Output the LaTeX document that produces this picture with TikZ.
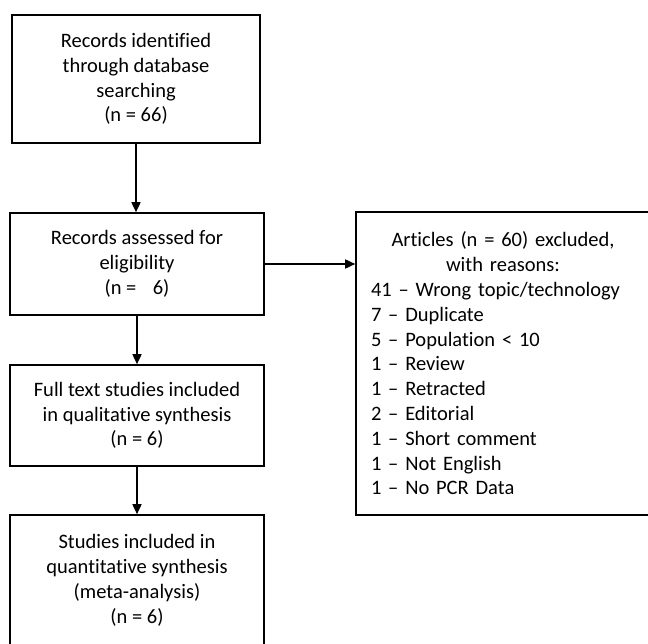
\documentclass[tikz,border=0pt]{standalone}
\usepackage{fontspec}
\setmainfont{Carlito}[Ligatures={NoCommon}]
\usetikzlibrary{arrows.meta}
\tikzset{
  box/.style={draw=black, line width=1.6pt, fill=white, align=center, inner sep=0pt,
    font=\fontsize{20.5}{24.8}\selectfont},
  arr/.style={line width=1.6pt, -{Triangle[length=10pt,width=9pt]}}
}
\begin{document}
\begin{tikzpicture}[x=1pt,y=-1pt]
\clip (0,0) rectangle (648,644);
\fill[white] (0,0) rectangle (648,644);
\node[box, minimum width=248pt, minimum height=128pt] (b1) at (136,79)
  {Records identified\\through database\\searching\\(n = 66)};
\node[box, minimum width=254pt, minimum height=102pt] (b2) at (137,264)
  {Records assessed for\\eligibility\\(n =\hspace{0.8em}6)};
\node[box, minimum width=254pt, minimum height=101pt] (b3) at (137,415.5)
  {Full text studies included\\in qualitative synthesis\\(n = 6)};
\node[box, minimum width=254pt, minimum height=131pt] (b4) at (137,580.5)
  {Studies included in\\quantitative synthesis\\(meta-analysis)\\(n = 6)};
\node[box, minimum width=294pt, minimum height=303pt, text width=264pt, align=left] (rb) at (503,363.5)
  {{\centering Articles (n = 60) excluded,\\ with reasons:\par}
   41 – Wrong topic/technology\\
   7 – Duplicate\\
   5 – Population < 10\\
   1 – Review\\
   1 – Retracted\\
   2 – Editorial\\
   1 – Short comment\\
   1 – Not English\\
   1 – No PCR Data};
\draw[arr] (b1.south) -- (b1.south |- b2.north);
\draw[arr] (b2.south) -- (b3.north);
\draw[arr] (b3.south) -- (b4.north);
\draw[arr] (b2.east) -- (b2.east -| rb.west);
\end{tikzpicture}
\end{document}
